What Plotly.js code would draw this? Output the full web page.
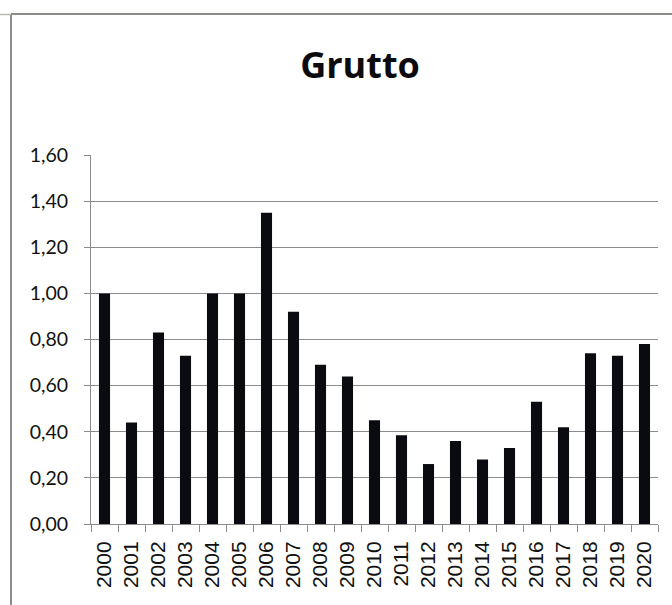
<!DOCTYPE html>
<html>
<head>
<meta charset="utf-8">
<script src="https://cdn.plot.ly/plotly-3.0.1.min.js"></script>
<style>
html,body{margin:0;padding:0;background:#fff;}
#chart{width:672px;height:605px;}
</style>
</head>
<body>
<div id="chart"></div>
<script>
const years = ["2000","2001","2002","2003","2004","2005","2006","2007","2008","2009","2010","2011","2012","2013","2014","2015","2016","2017","2018","2019","2020"];
const values = [1.00,0.44,0.83,0.73,1.00,1.00,1.35,0.92,0.69,0.64,0.45,0.385,0.26,0.36,0.28,0.33,0.53,0.42,0.74,0.73,0.78];
const yTickVals = [0,0.2,0.4,0.6,0.8,1.0,1.2,1.4,1.6];
const yTickText = ["0,00","0,20","0,40","0,60","0,80","1,00","1,20","1,40","1,60"];
const chartTitle = "Grutto";

const W = 672, H = 605, mL = 91, mR = 14, mT = 155, mB = 81;
const pw = W - mL - mR, ph = H - mT - mB;
const px = v => (v - mL) / pw;
const py = v => (H - mB - v) / ph;
const borderColor = "#8c8c88";

const trace = {
  type: "bar",
  x: years,
  y: values,
  marker: {color: "#0a0b10", line: {width: 0}},
  hoverinfo: "skip"
};

const layout = {
  width: W, height: H,
  margin: {l: mL, r: mR, t: mT, b: mB, pad: 0},
  paper_bgcolor: "#fff",
  plot_bgcolor: "#fff",
  showlegend: false,
  bargap: 0.59,
  title: {
    text: "<b>" + chartTitle + "</b>",
    font: {family: "Open Sans", size: 36, color: "#0b0b0f"},
    x: px(360), xref: "paper", xanchor: "center",
    y: (H - 78) / H, yref: "container", yanchor: "bottom"
  },
  xaxis: {
    type: "category",
    tickangle: -90,
    tickfont: {family: "Liberation Sans", size: 21, color: "#111"},
    ticks: "outside", ticklen: 7, tickcolor: "#8c8c8c", tickwidth: 1,
    tickson: "boundaries",
    showline: true, linecolor: "#8c8c8c", linewidth: 1,
    showgrid: false,
    ticklabelstandoff: 8,
    fixedrange: true
  },
  yaxis: {
    range: [0, 1.6],
    tickvals: yTickVals,
    ticktext: yTickText,
    tickfont: {family: "Lato", size: 19.5, color: "#111"},
    ticks: "outside", ticklen: 6, tickcolor: "#8c8c8c", tickwidth: 1,
    showline: true, linecolor: "#8c8c8c", linewidth: 1,
    showgrid: true, gridcolor: "#8c8c8c", gridwidth: 1,
    zeroline: false,
    ticklabelstandoff: 12,
    fixedrange: true
  },
  shapes: [
    {type: "line", xref: "paper", yref: "paper", x0: px(11), x1: px(11), y0: py(14), y1: py(605), line: {color: borderColor, width: 2}},
    {type: "line", xref: "paper", yref: "paper", x0: px(11), x1: px(672), y0: py(14), y1: py(14), line: {color: borderColor, width: 2}},
    {type: "line", xref: "paper", yref: "paper", x0: px(0), x1: px(11), y0: py(14.5), y1: py(14.5), line: {color: "#b8b8b4", width: 1.5}}
  ]
};

Plotly.newPlot("chart", [trace], layout, {displayModeBar: false, staticPlot: true});
</script>
</body>
</html>
